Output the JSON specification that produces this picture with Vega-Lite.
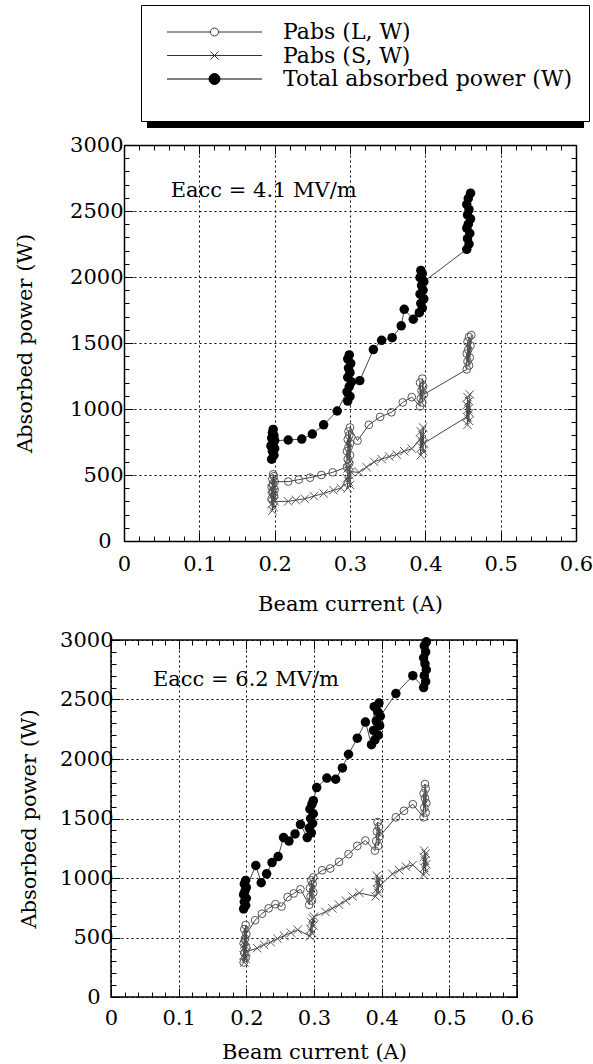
{
  "$schema": "https://vega.github.io/schema/vega-lite/v6.json",
  "background": "white",
  "padding": {"left": 14, "top": 4, "right": 0, "bottom": 0},
  "columns": 1,
  "spacing": 14,
  "datasets": {
    "top": [
      {"s":"T","x":0.196,"p":620},{"s":"T","x":0.199,"p":650},{"s":"T","x":0.197,"p":680},{"s":"T","x":0.2,"p":700},{"s":"T","x":0.195,"p":720},{"s":"T","x":0.198,"p":740},{"s":"T","x":0.2,"p":760},{"s":"T","x":0.196,"p":780},{"s":"T","x":0.199,"p":800},{"s":"T","x":0.197,"p":820},{"s":"T","x":0.198,"p":845},
      {"s":"T","x":0.218,"p":765},{"s":"T","x":0.236,"p":772},{"s":"T","x":0.25,"p":810},{"s":"T","x":0.265,"p":880},{"s":"T","x":0.283,"p":985},
      {"s":"T","x":0.297,"p":1060},{"s":"T","x":0.3,"p":1095},{"s":"T","x":0.296,"p":1130},{"s":"T","x":0.299,"p":1170},{"s":"T","x":0.302,"p":1205},{"s":"T","x":0.297,"p":1240},{"s":"T","x":0.3,"p":1275},{"s":"T","x":0.298,"p":1310},{"s":"T","x":0.301,"p":1345},{"s":"T","x":0.297,"p":1380},{"s":"T","x":0.299,"p":1410},
      {"s":"T","x":0.313,"p":1215},{"s":"T","x":0.331,"p":1450},{"s":"T","x":0.342,"p":1520},{"s":"T","x":0.356,"p":1540},{"s":"T","x":0.368,"p":1630},{"s":"T","x":0.372,"p":1755},{"s":"T","x":0.384,"p":1680},
      {"s":"T","x":0.392,"p":1730},{"s":"T","x":0.396,"p":1765},{"s":"T","x":0.394,"p":1800},{"s":"T","x":0.398,"p":1835},{"s":"T","x":0.393,"p":1870},{"s":"T","x":0.397,"p":1900},{"s":"T","x":0.395,"p":1935},{"s":"T","x":0.398,"p":1965},{"s":"T","x":0.393,"p":1995},{"s":"T","x":0.396,"p":2025},{"s":"T","x":0.394,"p":2050},
      {"s":"T","x":0.455,"p":2210},{"s":"T","x":0.458,"p":2250},{"s":"T","x":0.456,"p":2290},{"s":"T","x":0.459,"p":2330},{"s":"T","x":0.455,"p":2370},{"s":"T","x":0.457,"p":2400},{"s":"T","x":0.46,"p":2440},{"s":"T","x":0.456,"p":2470},{"s":"T","x":0.458,"p":2510},{"s":"T","x":0.455,"p":2550},{"s":"T","x":0.457,"p":2595},{"s":"T","x":0.46,"p":2635},
      {"s":"L","x":0.196,"p":320},{"s":"L","x":0.199,"p":345},{"s":"L","x":0.197,"p":370},{"s":"L","x":0.2,"p":390},{"s":"L","x":0.196,"p":410},{"s":"L","x":0.198,"p":430},{"s":"L","x":0.2,"p":450},{"s":"L","x":0.197,"p":470},{"s":"L","x":0.199,"p":490},{"s":"L","x":0.198,"p":505},
      {"s":"L","x":0.218,"p":450},{"s":"L","x":0.232,"p":465},{"s":"L","x":0.247,"p":480},{"s":"L","x":0.262,"p":500},{"s":"L","x":0.277,"p":520},
      {"s":"L","x":0.296,"p":560},{"s":"L","x":0.299,"p":590},{"s":"L","x":0.297,"p":620},{"s":"L","x":0.3,"p":650},{"s":"L","x":0.296,"p":680},{"s":"L","x":0.298,"p":710},{"s":"L","x":0.3,"p":740},{"s":"L","x":0.297,"p":770},{"s":"L","x":0.299,"p":800},{"s":"L","x":0.298,"p":830},{"s":"L","x":0.3,"p":860},
      {"s":"L","x":0.31,"p":760},{"s":"L","x":0.325,"p":880},{"s":"L","x":0.34,"p":940},{"s":"L","x":0.355,"p":975},{"s":"L","x":0.37,"p":1050},{"s":"L","x":0.382,"p":1090},
      {"s":"L","x":0.393,"p":1020},{"s":"L","x":0.396,"p":1050},{"s":"L","x":0.394,"p":1080},{"s":"L","x":0.398,"p":1110},{"s":"L","x":0.395,"p":1140},{"s":"L","x":0.397,"p":1170},{"s":"L","x":0.393,"p":1200},{"s":"L","x":0.396,"p":1230},
      {"s":"L","x":0.455,"p":1300},{"s":"L","x":0.458,"p":1330},{"s":"L","x":0.456,"p":1360},{"s":"L","x":0.459,"p":1390},{"s":"L","x":0.455,"p":1420},{"s":"L","x":0.457,"p":1450},{"s":"L","x":0.46,"p":1480},{"s":"L","x":0.456,"p":1510},{"s":"L","x":0.458,"p":1545},{"s":"L","x":0.461,"p":1560},
      {"s":"S","x":0.197,"p":230},{"s":"S","x":0.199,"p":255},{"s":"S","x":0.196,"p":280},{"s":"S","x":0.2,"p":300},{"s":"S","x":0.198,"p":320},{"s":"S","x":0.197,"p":345},{"s":"S","x":0.199,"p":370},{"s":"S","x":0.196,"p":395},{"s":"S","x":0.198,"p":420},
      {"s":"S","x":0.218,"p":300},{"s":"S","x":0.228,"p":310},{"s":"S","x":0.24,"p":320},{"s":"S","x":0.252,"p":340},{"s":"S","x":0.265,"p":360},{"s":"S","x":0.278,"p":385},{"s":"S","x":0.288,"p":400},
      {"s":"S","x":0.297,"p":400},{"s":"S","x":0.3,"p":425},{"s":"S","x":0.298,"p":450},{"s":"S","x":0.296,"p":475},{"s":"S","x":0.299,"p":500},{"s":"S","x":0.301,"p":525},{"s":"S","x":0.297,"p":550},{"s":"S","x":0.299,"p":570},
      {"s":"S","x":0.312,"p":520},{"s":"S","x":0.322,"p":560},{"s":"S","x":0.332,"p":600},{"s":"S","x":0.342,"p":620},{"s":"S","x":0.352,"p":640},{"s":"S","x":0.362,"p":655},{"s":"S","x":0.372,"p":680},{"s":"S","x":0.382,"p":700},
      {"s":"S","x":0.394,"p":650},{"s":"S","x":0.397,"p":680},{"s":"S","x":0.395,"p":710},{"s":"S","x":0.398,"p":740},{"s":"S","x":0.393,"p":770},{"s":"S","x":0.396,"p":800},{"s":"S","x":0.394,"p":830},{"s":"S","x":0.397,"p":860},
      {"s":"S","x":0.456,"p":880},{"s":"S","x":0.458,"p":910},{"s":"S","x":0.455,"p":940},{"s":"S","x":0.459,"p":970},{"s":"S","x":0.457,"p":1000},{"s":"S","x":0.455,"p":1030},{"s":"S","x":0.458,"p":1060},{"s":"S","x":0.456,"p":1090},{"s":"S","x":0.459,"p":1110}
    ],
    "bottom": [
      {"s":"T","x":0.196,"p":740},{"s":"T","x":0.199,"p":770},{"s":"T","x":0.197,"p":800},{"s":"T","x":0.2,"p":830},{"s":"T","x":0.196,"p":860},{"s":"T","x":0.198,"p":890},{"s":"T","x":0.2,"p":920},{"s":"T","x":0.197,"p":950},{"s":"T","x":0.199,"p":980},
      {"s":"T","x":0.214,"p":1105},{"s":"T","x":0.222,"p":960},{"s":"T","x":0.23,"p":1035},{"s":"T","x":0.238,"p":1130},{"s":"T","x":0.247,"p":1180},{"s":"T","x":0.255,"p":1340},{"s":"T","x":0.263,"p":1310},{"s":"T","x":0.272,"p":1370},{"s":"T","x":0.28,"p":1450},
      {"s":"T","x":0.29,"p":1340},{"s":"T","x":0.296,"p":1380},{"s":"T","x":0.293,"p":1420},{"s":"T","x":0.298,"p":1460},{"s":"T","x":0.295,"p":1500},{"s":"T","x":0.299,"p":1540},{"s":"T","x":0.294,"p":1580},{"s":"T","x":0.297,"p":1620},{"s":"T","x":0.299,"p":1650},
      {"s":"T","x":0.304,"p":1760},{"s":"T","x":0.319,"p":1840},{"s":"T","x":0.332,"p":1830},{"s":"T","x":0.342,"p":1925},{"s":"T","x":0.351,"p":2040},{"s":"T","x":0.364,"p":2175},{"s":"T","x":0.376,"p":2310},
      {"s":"T","x":0.385,"p":2120},{"s":"T","x":0.39,"p":2160},{"s":"T","x":0.395,"p":2200},{"s":"T","x":0.388,"p":2240},{"s":"T","x":0.397,"p":2280},{"s":"T","x":0.392,"p":2320},{"s":"T","x":0.398,"p":2360},{"s":"T","x":0.394,"p":2400},{"s":"T","x":0.389,"p":2440},{"s":"T","x":0.396,"p":2470},
      {"s":"T","x":0.421,"p":2550},{"s":"T","x":0.446,"p":2700},
      {"s":"T","x":0.462,"p":2600},{"s":"T","x":0.465,"p":2650},{"s":"T","x":0.463,"p":2700},{"s":"T","x":0.466,"p":2750},{"s":"T","x":0.464,"p":2800},{"s":"T","x":0.462,"p":2850},{"s":"T","x":0.465,"p":2900},{"s":"T","x":0.463,"p":2950},{"s":"T","x":0.466,"p":2985},
      {"s":"L","x":0.196,"p":290},{"s":"L","x":0.199,"p":330},{"s":"L","x":0.197,"p":370},{"s":"L","x":0.2,"p":410},{"s":"L","x":0.196,"p":450},{"s":"L","x":0.198,"p":490},{"s":"L","x":0.2,"p":530},{"s":"L","x":0.197,"p":570},{"s":"L","x":0.199,"p":605},
      {"s":"L","x":0.213,"p":645},{"s":"L","x":0.223,"p":700},{"s":"L","x":0.233,"p":745},{"s":"L","x":0.243,"p":780},{"s":"L","x":0.252,"p":760},{"s":"L","x":0.261,"p":840},{"s":"L","x":0.27,"p":870},{"s":"L","x":0.28,"p":905},
      {"s":"L","x":0.293,"p":775},{"s":"L","x":0.297,"p":810},{"s":"L","x":0.295,"p":845},{"s":"L","x":0.299,"p":880},{"s":"L","x":0.294,"p":915},{"s":"L","x":0.298,"p":950},{"s":"L","x":0.296,"p":980},{"s":"L","x":0.299,"p":1005},
      {"s":"L","x":0.312,"p":1065},{"s":"L","x":0.324,"p":1080},{"s":"L","x":0.337,"p":1135},{"s":"L","x":0.351,"p":1200},{"s":"L","x":0.364,"p":1270},{"s":"L","x":0.376,"p":1315},
      {"s":"L","x":0.39,"p":1230},{"s":"L","x":0.395,"p":1270},{"s":"L","x":0.392,"p":1310},{"s":"L","x":0.397,"p":1350},{"s":"L","x":0.393,"p":1390},{"s":"L","x":0.396,"p":1430},{"s":"L","x":0.394,"p":1470},
      {"s":"L","x":0.421,"p":1510},{"s":"L","x":0.433,"p":1565},{"s":"L","x":0.446,"p":1620},
      {"s":"L","x":0.462,"p":1510},{"s":"L","x":0.465,"p":1550},{"s":"L","x":0.463,"p":1590},{"s":"L","x":0.466,"p":1630},{"s":"L","x":0.464,"p":1670},{"s":"L","x":0.462,"p":1710},{"s":"L","x":0.465,"p":1750},{"s":"L","x":0.464,"p":1790},
      {"s":"S","x":0.197,"p":290},{"s":"S","x":0.199,"p":320},{"s":"S","x":0.196,"p":350},{"s":"S","x":0.2,"p":380},{"s":"S","x":0.198,"p":410},{"s":"S","x":0.197,"p":440},{"s":"S","x":0.199,"p":475},
      {"s":"S","x":0.216,"p":410},{"s":"S","x":0.226,"p":440},{"s":"S","x":0.236,"p":460},{"s":"S","x":0.246,"p":490},{"s":"S","x":0.256,"p":515},{"s":"S","x":0.266,"p":540},{"s":"S","x":0.276,"p":565},
      {"s":"S","x":0.294,"p":510},{"s":"S","x":0.297,"p":540},{"s":"S","x":0.295,"p":570},{"s":"S","x":0.299,"p":600},{"s":"S","x":0.296,"p":630},{"s":"S","x":0.298,"p":660},{"s":"S","x":0.3,"p":675},
      {"s":"S","x":0.317,"p":715},{"s":"S","x":0.327,"p":745},{"s":"S","x":0.337,"p":775},{"s":"S","x":0.347,"p":810},{"s":"S","x":0.357,"p":845},{"s":"S","x":0.367,"p":875},
      {"s":"S","x":0.391,"p":845},{"s":"S","x":0.395,"p":875},{"s":"S","x":0.393,"p":905},{"s":"S","x":0.397,"p":935},{"s":"S","x":0.394,"p":965},{"s":"S","x":0.396,"p":995},{"s":"S","x":0.393,"p":1020},
      {"s":"S","x":0.416,"p":1035},{"s":"S","x":0.426,"p":1065},{"s":"S","x":0.436,"p":1095},{"s":"S","x":0.446,"p":1110},
      {"s":"S","x":0.462,"p":1025},{"s":"S","x":0.465,"p":1055},{"s":"S","x":0.463,"p":1085},{"s":"S","x":0.466,"p":1115},{"s":"S","x":0.464,"p":1145},{"s":"S","x":0.462,"p":1175},{"s":"S","x":0.465,"p":1205},{"s":"S","x":0.463,"p":1230}
    ]
  },
  "concat": [
    {
      "width": 465,
      "height": 396,
      "view": {"stroke": null},
      "data": {"name": "top"},
      "resolve": {"axis": {"x": "independent", "y": "independent"}},
      "layer": [
        {
          "data": {"values": [{}]},
          "mark": {"type": "rect", "color": "black"},
          "encoding": {
            "x": {"datum": 0.0305, "type": "quantitative", "scale": {"domain": [0, 0.6], "range": [13, 465], "nice": false, "zero": false}, "axis": null},
            "x2": {"datum": 0.6106},
            "y": {"datum": 4015, "type": "quantitative", "scale": {"domain": [0, 3000], "nice": false, "zero": false}, "axis": null},
            "y2": {"datum": 3129}
          }
        },
        {
          "mark": {"type": "line", "stroke": "#444", "strokeWidth": 1},
          "encoding": {
            "x": {"field": "x", "type": "quantitative", "scale": {"domain": [0, 0.6], "range": [13, 465], "nice": false, "zero": false},
              "axis": {"orient": "bottom", "values": [0,0.02,0.04,0.06,0.08,0.1,0.12,0.14,0.16,0.18,0.2,0.22,0.24,0.26,0.28,0.3,0.32,0.34,0.36,0.38,0.4,0.42,0.44,0.46,0.48,0.5,0.52,0.54,0.56,0.58,0.6],
                "domain": true, "domainColor": "black", "domainWidth": 1.5,
                "grid": true,
                "gridOpacity": {"condition": {"test": "abs(datum.value*10-round(datum.value*10))<0.001", "value": 1}, "value": 0},
                "tickSize": {"condition": {"test": "abs(datum.value*10-round(datum.value*10))<0.001", "value": -9}, "value": -5},
                "labelExpr": "abs(datum.value*10-round(datum.value*10))<0.001 ? format(datum.value, '.1~f') : ''",
                "labelPadding": 21, "title": "Beam current (A)", "titlePadding": 15}},
            "y": {"field": "p", "type": "quantitative", "scale": {"domain": [0, 3000], "nice": false, "zero": false},
              "axis": {"orient": "left", "offset": -13, "values": [0,100,200,300,400,500,600,700,800,900,1000,1100,1200,1300,1400,1500,1600,1700,1800,1900,2000,2100,2200,2300,2400,2500,2600,2700,2800,2900,3000],
                "domain": true, "domainColor": "black", "domainWidth": 1.5,
                "grid": true,
                "gridOpacity": {"condition": {"test": "datum.value % 500 === 0", "value": 1}, "value": 0},
                "tickSize": {"condition": {"test": "datum.value % 500 === 0", "value": -9}, "value": -5},
                "labelExpr": "datum.value % 500 === 0 ? format(datum.value, 'd') : ''",
                "labelPadding": {"condition": {"test": "datum.value === 0", "value": 22}, "value": 10},
                "title": "Absorbed power (W)", "titlePadding": 34}},
            "detail": {"field": "s", "type": "nominal"}
          }
        },
        {
          "transform": [{"filter": "datum.s === 'L'"}],
          "mark": {"type": "point", "shape": "circle", "filled": false, "stroke": "#555", "strokeWidth": 1, "size": 60, "opacity": 1},
          "encoding": {
            "x": {"field": "x", "type": "quantitative", "scale": {"domain": [0, 0.6], "range": [13, 465], "nice": false, "zero": false}, "axis": null},
            "y": {"field": "p", "type": "quantitative", "scale": {"domain": [0, 3000], "nice": false, "zero": false}, "axis": null}
          }
        },
        {
          "transform": [{"filter": "datum.s === 'S'"}],
          "mark": {"type": "point", "shape": "M-1,-1L1,1M-1,1L1,-1", "filled": false, "stroke": "#555", "strokeWidth": 1, "size": 70, "opacity": 1},
          "encoding": {
            "x": {"field": "x", "type": "quantitative", "scale": {"domain": [0, 0.6], "range": [13, 465], "nice": false, "zero": false}, "axis": null},
            "y": {"field": "p", "type": "quantitative", "scale": {"domain": [0, 3000], "nice": false, "zero": false}, "axis": null}
          }
        },
        {
          "transform": [{"filter": "datum.s === 'T'"}],
          "mark": {"type": "point", "shape": "circle", "filled": true, "color": "black", "size": 90, "opacity": 1},
          "encoding": {
            "x": {"field": "x", "type": "quantitative", "scale": {"domain": [0, 0.6], "range": [13, 465], "nice": false, "zero": false}, "axis": null},
            "y": {"field": "p", "type": "quantitative", "scale": {"domain": [0, 3000], "nice": false, "zero": false}, "axis": null}
          }
        },
        {
          "data": {"values": [{}]},
          "mark": {"type": "text", "align": "left", "baseline": "middle", "font": "DejaVu Serif", "fontSize": 21, "color": "black", "text": "Eacc = 4.1 MV/m"},
          "encoding": {
            "x": {"datum": 0.062, "type": "quantitative", "scale": {"domain": [0, 0.6], "range": [13, 465], "nice": false, "zero": false},
              "axis": {"orient": "top", "values": [0,0.02,0.04,0.06,0.08,0.1,0.12,0.14,0.16,0.18,0.2,0.22,0.24,0.26,0.28,0.3,0.32,0.34,0.36,0.38,0.4,0.42,0.44,0.46,0.48,0.5,0.52,0.54,0.56,0.58,0.6],
                "domain": true, "domainColor": "black", "domainWidth": 1.5,
                "grid": false, "labels": false, "title": null,
                "tickSize": {"condition": {"test": "abs(datum.value*10-round(datum.value*10))<0.001", "value": -9}, "value": -5}}},
            "y": {"datum": 2650, "type": "quantitative", "scale": {"domain": [0, 3000], "nice": false, "zero": false},
              "axis": {"orient": "right", "values": [0,100,200,300,400,500,600,700,800,900,1000,1100,1200,1300,1400,1500,1600,1700,1800,1900,2000,2100,2200,2300,2400,2500,2600,2700,2800,2900,3000],
                "domain": true, "domainColor": "black", "domainWidth": 1.5,
                "grid": false, "labels": false, "title": null,
                "tickSize": {"condition": {"test": "datum.value % 500 === 0", "value": -9}, "value": -5}}}
          }
        },
        {
          "data": {"values": [{"series": "Pabs (L, W)"}, {"series": "Pabs (S, W)"}, {"series": "Total absorbed power (W)"}]},
          "mark": {"type": "point", "filled": true, "opacity": 0},
          "encoding": {
            "shape": {"field": "series", "type": "nominal",
              "scale": {"domain": ["Pabs (L, W)", "Pabs (S, W)", "Total absorbed power (W)"],
                "range": ["M-0.2,0L8.5,0M10.1,0L18.8,0M10.1,0A0.8,0.8,0,1,1,8.5,0A0.8,0.8,0,1,1,10.1,0",
                          "M-0.2,0L18.8,0M8.5,-0.8L10.1,0.8M8.5,0.8L10.1,-0.8",
                          "M-0.2,0L18.8,0M10.4,0A1.1,1.1,0,1,1,8.2,0A1.1,1.1,0,1,1,10.4,0"]},
              "legend": {"orient": "none", "legendX": 30, "legendY": -140,
                "title": " ", "titleOrient": "bottom", "titleFontSize": 12, "titlePadding": 4,
                "padding": 16,
                "strokeColor": "black", "fillColor": "white",
                "labelFont": "DejaVu Serif", "labelFontSize": 22, "labelColor": "black", "labelLimit": 600,
                "symbolSize": 100, "symbolStrokeWidth": 1, "symbolOpacity": 1, "labelOffset": 104, "rowPadding": 1.5, "zindex": 1}},
            "fill": {"field": "series", "type": "nominal",
              "scale": {"domain": ["Pabs (L, W)", "Pabs (S, W)", "Total absorbed power (W)"], "range": ["white", "white", "black"]}},
            "stroke": {"field": "series", "type": "nominal",
              "scale": {"domain": ["Pabs (L, W)", "Pabs (S, W)", "Total absorbed power (W)"], "range": ["#333", "#333", "black"]}}
          }
        }
      ]
    },
    {
      "width": 406,
      "height": 357,
      "data": {"name": "bottom"},
      "resolve": {"axis": {"x": "independent", "y": "independent"}},
      "layer": [
        {
          "mark": {"type": "line", "stroke": "#444", "strokeWidth": 1},
          "encoding": {
            "x": {"field": "x", "type": "quantitative", "scale": {"domain": [0, 0.6], "nice": false, "zero": false},
              "axis": {"orient": "bottom", "values": [0,0.02,0.04,0.06,0.08,0.1,0.12,0.14,0.16,0.18,0.2,0.22,0.24,0.26,0.28,0.3,0.32,0.34,0.36,0.38,0.4,0.42,0.44,0.46,0.48,0.5,0.52,0.54,0.56,0.58,0.6],
                "grid": true,
                "gridOpacity": {"condition": {"test": "abs(datum.value*10-round(datum.value*10))<0.001", "value": 1}, "value": 0},
                "tickSize": {"condition": {"test": "abs(datum.value*10-round(datum.value*10))<0.001", "value": -9}, "value": -5},
                "labelExpr": "abs(datum.value*10-round(datum.value*10))<0.001 ? format(datum.value, '.1~f') : ''",
                "labelPadding": 19, "title": "Beam current (A)", "titlePadding": 9}},
            "y": {"field": "p", "type": "quantitative", "scale": {"domain": [0, 3000], "nice": false, "zero": false},
              "axis": {"orient": "left", "values": [0,100,200,300,400,500,600,700,800,900,1000,1100,1200,1300,1400,1500,1600,1700,1800,1900,2000,2100,2200,2300,2400,2500,2600,2700,2800,2900,3000],
                "grid": true,
                "gridOpacity": {"condition": {"test": "datum.value % 500 === 0", "value": 1}, "value": 0},
                "tickSize": {"condition": {"test": "datum.value % 500 === 0", "value": -9}, "value": -5},
                "labelExpr": "datum.value % 500 === 0 ? format(datum.value, 'd') : ''",
                "labelPadding": {"condition": {"test": "datum.value === 0", "value": 20}, "value": 7},
                "title": "Absorbed power (W)", "titlePadding": 20}},
            "detail": {"field": "s", "type": "nominal"}
          }
        },
        {
          "transform": [{"filter": "datum.s === 'L'"}],
          "mark": {"type": "point", "shape": "circle", "filled": false, "stroke": "#555", "strokeWidth": 1, "size": 60, "opacity": 1},
          "encoding": {
            "x": {"field": "x", "type": "quantitative", "scale": {"domain": [0, 0.6], "nice": false, "zero": false}, "axis": null},
            "y": {"field": "p", "type": "quantitative", "scale": {"domain": [0, 3000], "nice": false, "zero": false}, "axis": null}
          }
        },
        {
          "transform": [{"filter": "datum.s === 'S'"}],
          "mark": {"type": "point", "shape": "M-1,-1L1,1M-1,1L1,-1", "filled": false, "stroke": "#555", "strokeWidth": 1, "size": 70, "opacity": 1},
          "encoding": {
            "x": {"field": "x", "type": "quantitative", "scale": {"domain": [0, 0.6], "nice": false, "zero": false}, "axis": null},
            "y": {"field": "p", "type": "quantitative", "scale": {"domain": [0, 3000], "nice": false, "zero": false}, "axis": null}
          }
        },
        {
          "transform": [{"filter": "datum.s === 'T'"}],
          "mark": {"type": "point", "shape": "circle", "filled": true, "color": "black", "size": 90, "opacity": 1},
          "encoding": {
            "x": {"field": "x", "type": "quantitative", "scale": {"domain": [0, 0.6], "nice": false, "zero": false}, "axis": null},
            "y": {"field": "p", "type": "quantitative", "scale": {"domain": [0, 3000], "nice": false, "zero": false}, "axis": null}
          }
        },
        {
          "data": {"values": [{}]},
          "mark": {"type": "text", "align": "left", "baseline": "middle", "font": "DejaVu Serif", "fontSize": 21, "color": "black", "text": "Eacc = 6.2 MV/m"},
          "encoding": {
            "x": {"datum": 0.062, "type": "quantitative", "scale": {"domain": [0, 0.6], "nice": false, "zero": false},
              "axis": {"orient": "top", "values": [0,0.02,0.04,0.06,0.08,0.1,0.12,0.14,0.16,0.18,0.2,0.22,0.24,0.26,0.28,0.3,0.32,0.34,0.36,0.38,0.4,0.42,0.44,0.46,0.48,0.5,0.52,0.54,0.56,0.58,0.6],
                "grid": false, "labels": false, "title": null,
                "tickSize": {"condition": {"test": "abs(datum.value*10-round(datum.value*10))<0.001", "value": -9}, "value": -5}}},
            "y": {"datum": 2660, "type": "quantitative", "scale": {"domain": [0, 3000], "nice": false, "zero": false},
              "axis": {"orient": "right", "values": [0,100,200,300,400,500,600,700,800,900,1000,1100,1200,1300,1400,1500,1600,1700,1800,1900,2000,2100,2200,2300,2400,2500,2600,2700,2800,2900,3000],
                "grid": false, "labels": false, "title": null,
                "tickSize": {"condition": {"test": "datum.value % 500 === 0", "value": -9}, "value": -5}}}
          }
        }
      ]
    }
  ],
  "config": {
    "view": {"stroke": "black", "strokeWidth": 1.5},
    "font": "DejaVu Serif",
    "style": {"guide-label": {"font": "DejaVu Serif"}, "guide-title": {"font": "DejaVu Serif"}},
    "legend": {"labelFont": "DejaVu Serif"},
    "axis": {
      "domain": false,
      "tickColor": "black", "tickWidth": 1,
      "gridColor": "black", "gridDash": [2, 3], "gridWidth": 1,
      "labelFont": "DejaVu Serif", "labelFontSize": 21, "labelColor": "black",
      "labelFlush": false, "labelOverlap": false, "labelBound": false,
      "titleFont": "DejaVu Serif", "titleFontSize": 21, "titleFontWeight": "normal", "titleColor": "black"
    }
  }
}
